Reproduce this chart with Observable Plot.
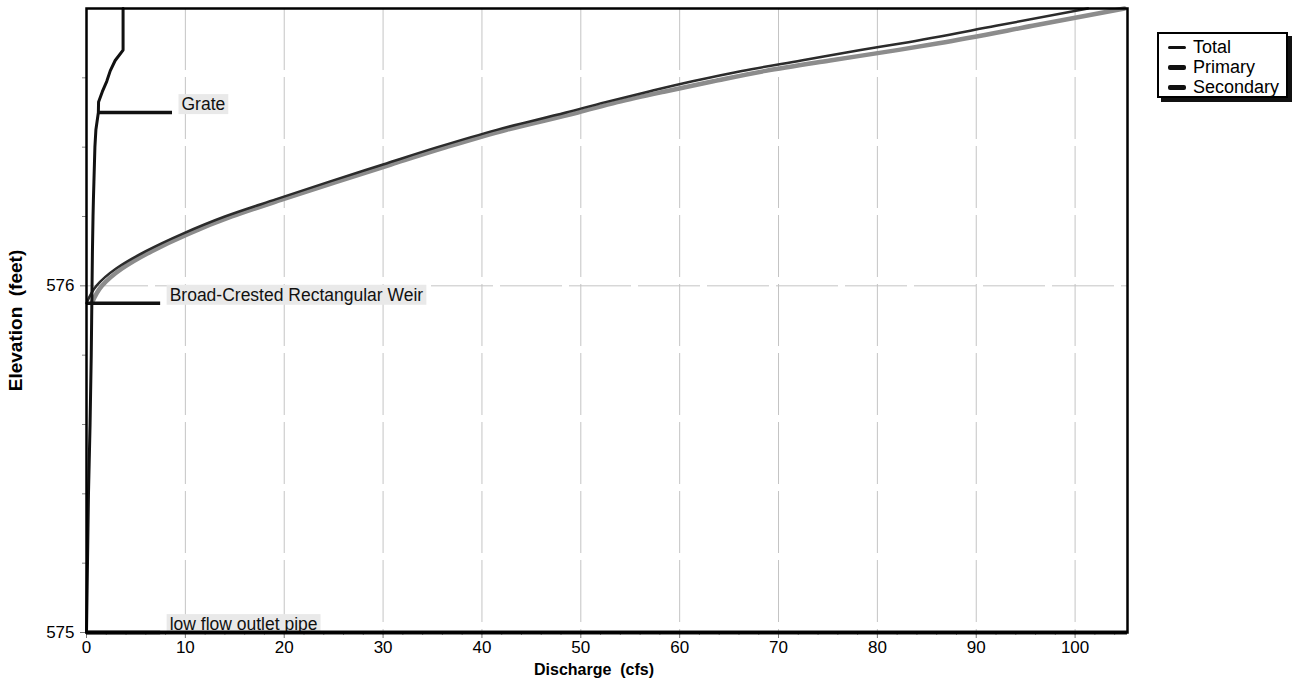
<!DOCTYPE html>
<html>
<head>
<meta charset="utf-8">
<script src="https://cdn.jsdelivr.net/npm/d3@7"></script>
<script src="https://cdn.jsdelivr.net/npm/@observablehq/plot@0.6"></script>
<style>
  html, body { margin: 0; padding: 0; background: #fff; }
  #wrap { position: relative; width: 1294px; height: 687px; font-family: "Liberation Sans", Arial, sans-serif; }
  #legend { position: absolute; left: 1157px; top: 32px; width: 131px; height: 66px; border: 2px solid #000; background: #fff; box-shadow: 4px 4px 0 #111; font-size: 18px; line-height: 20px; padding-top: 3px; box-sizing: border-box; }
  #legend .row { display: flex; align-items: center; height: 20px; }
  #legend .sw { width: 18px; margin-left: 9px; margin-right: 7px; border-radius: 2px; }
</style>
</head>
<body>
<div id="wrap"><div id="legend"></div></div>
<script>
// Elevation (feet) at which discharge values were read
const elevation = [575.00, 575.10, 575.20, 575.30, 575.40, 575.50, 575.60, 575.70, 575.80, 575.90, 575.95,
  576.00, 576.05, 576.10, 576.15, 576.20, 576.25, 576.30, 576.35, 576.40, 576.45, 576.50,
  576.53, 576.56, 576.59, 576.62, 576.65, 576.68, 576.70, 576.75, 576.80];
// Discharge (cfs) per series
const primary = [0, 0.05, 0.10, 0.15, 0.20, 0.28, 0.36, 0.42, 0.48, 0.52, 0.54,
  0.56, 0.58, 0.60, 0.63, 0.66, 0.70, 0.75, 0.80, 0.85, 0.95, 1.20,
  1.22, 1.60, 2.05, 2.40, 2.90, 3.70, 3.70, 3.70, 3.70];
const secondary = [0, 0, 0, 0, 0, 0, 0, 0, 0, 0, 0,
  1.0, 3.0, 6.0, 9.7, 14.0, 19.2, 24.5, 30.0, 35.5, 41.5, 48.5,
  52.5, 56.8, 61.3, 66.3, 72.3, 78.3, 82.5, 92.0, 101.3];
const total = [0, 0.05, 0.10, 0.15, 0.20, 0.28, 0.36, 0.42, 0.48, 0.52, 0.54,
  1.56, 3.6, 6.6, 10.3, 14.7, 19.9, 25.3, 30.8, 36.4, 42.5, 49.7,
  53.7, 58.4, 63.4, 68.7, 75.2, 82.0, 86.2, 95.7, 105.0];

const seriesNames = ["Total", "Primary", "Secondary"];
const seriesColors = ["#8c8c8c", "#111111", "#2b2b2b"];

// Outlet devices (name, invert elevation, discharge where marker starts)
const deviceNames = ["Grate", "Broad-Crested Rectangular Weir", "low flow outlet pipe"];
const deviceElev = [576.50, 575.95, 575.00];
const deviceStart = [1.2, 0, 0];

const xMajor = [0, 10, 20, 30, 40, 50, 60, 70, 80, 90, 100];
const xMinor = d3.range(0, 106, 2);
const yMajor = [575, 576];
const yMinor = [575.2, 575.4, 575.6, 575.8, 576.2, 576.4, 576.6];

const xMax = 105.3, yMax = 576.8;
const xTitle = "Discharge\u00a0 (cfs)";
const yTitle = "Elevation\u00a0 (feet)";

const rows = elevation.map((e, i) => ({elev: e, Total: total[i], Primary: primary[i], Secondary: secondary[i]}));
const devices = deviceNames.map((n, i) => ({name: n, elev: deviceElev[i], x1: deviceStart[i], x2: deviceStart[i] + 7.5}));

const font = "Liberation Sans, Arial, sans-serif";

const chart = Plot.plot({
  width: 1294,
  height: 687,
  marginLeft: 86,
  marginRight: 167,
  marginTop: 8,
  marginBottom: 55,
  style: {fontFamily: font, fontSize: "17px", background: "#fff"},
  x: {domain: [0, xMax]},
  y: {domain: [575, yMax]},
  marks: [
    Plot.gridX(xMajor.slice(1), {stroke: "#c4c4c4", strokeOpacity: 1, strokeWidth: 1, strokeDasharray: "62,7"}),
    Plot.gridY([576], {stroke: "#c4c4c4", strokeOpacity: 1, strokeWidth: 1, strokeDasharray: "62,7"}),
    Plot.axisX(xMinor, {tickSize: 3, stroke: "#888", text: null, label: null}),
    Plot.axisX(xMajor, {tickSize: 6, tickPadding: 2, stroke: "#777", fill: "#000", tickFormat: d3.format("d"),
      label: xTitle, labelAnchor: "center", labelArrow: "none", labelOffset: 42}),
    Plot.axisY(yMinor, {tickSize: 4, stroke: "#888", text: null, label: null}),
    Plot.axisY(yMajor, {tickSize: 6, tickPadding: 6, stroke: "#777", fill: "#000", tickFormat: d3.format("d"),
      label: yTitle, labelAnchor: "center", labelArrow: "none", labelOffset: 78}),
    Plot.line(rows, {x: "Total", y: "elev", stroke: seriesColors[0], strokeWidth: 4.5, curve: "monotone-y", filter: d => d.elev >= 575.95}),
    Plot.line(rows, {x: "Secondary", y: "elev", stroke: seriesColors[2], strokeWidth: 2.5, curve: "monotone-y", filter: d => d.elev >= 575.95}),
    Plot.line(rows, {x: "Primary", y: "elev", stroke: seriesColors[1], strokeWidth: 3}),
    Plot.ruleY(devices, {y: "elev", x1: "x1", x2: "x2", stroke: "#111", strokeWidth: 3.5}),
    Plot.text(devices, {x: "x2", y: "elev", text: "name", textAnchor: "start", dx: 9, dy: -8, fontSize: 17.5, fill: "#111"}),
    Plot.ruleY([575], {stroke: "#111", strokeWidth: 4}),
    Plot.frame({stroke: "#000", strokeWidth: 2.5})
  ]
});

const wrap = document.getElementById("wrap");
wrap.insertBefore(chart, wrap.firstChild);

// Light grey boxes behind device labels; bold axis titles
chart.querySelectorAll("text").forEach(t => {
  const s = t.textContent;
  if (deviceNames.includes(s)) {
    const b = t.getBBox();
    const r = document.createElementNS("http://www.w3.org/2000/svg", "rect");
    r.setAttribute("x", b.x - 3);
    r.setAttribute("y", b.y);
    r.setAttribute("width", b.width + 6);
    r.setAttribute("height", b.height);
    r.setAttribute("fill", "#e9e9e9");
    if (t.getAttribute("transform")) r.setAttribute("transform", t.getAttribute("transform"));
    t.parentNode.insertBefore(r, t);
  } else if (s === xTitle) {
    t.style.fontWeight = "bold";
    t.style.fontSize = "16px";
    t.setAttribute("dx", "-13");
  } else if (s === yTitle) {
    t.style.fontWeight = "bold";
    t.style.fontSize = "19px";
  }
});

// Legend
const legend = document.getElementById("legend");
seriesNames.forEach((n, i) => {
  const row = document.createElement("div");
  row.className = "row";
  const sw = document.createElement("span");
  sw.className = "sw";
  sw.style.height = (i === 0 ? 3 : 5) + "px";
  sw.style.background = "#111";
  const tx = document.createElement("span");
  tx.textContent = n;
  row.appendChild(sw);
  row.appendChild(tx);
  legend.appendChild(row);
});
</script>
</body>
</html>
